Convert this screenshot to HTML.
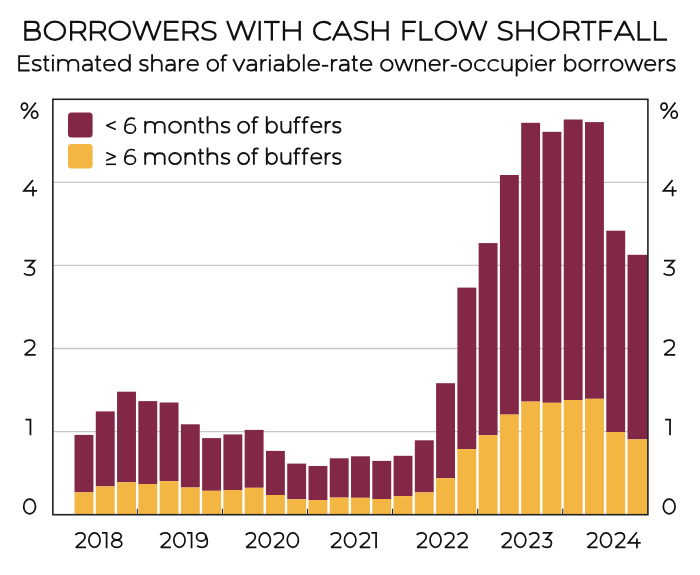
<!DOCTYPE html>
<html><head><meta charset="utf-8"><style>
html,body{margin:0;padding:0;background:#fff;width:700px;height:575px;overflow:hidden}
svg{display:block}
.dg ellipse,.dg path,.gl ellipse,.gl path{vector-effect:non-scaling-stroke}
</style></head><body>
<svg width="700" height="575" viewBox="0 0 700 575">
<rect width="700" height="575" fill="#fff"/>
<line x1="52.85" y1="431.60" x2="647.9" y2="431.60" stroke="#c8c8c8" stroke-width="1.3"/>
<line x1="52.85" y1="348.50" x2="647.9" y2="348.50" stroke="#c8c8c8" stroke-width="1.3"/>
<line x1="52.85" y1="265.40" x2="647.9" y2="265.40" stroke="#c8c8c8" stroke-width="1.3"/>
<line x1="52.85" y1="182.30" x2="647.9" y2="182.30" stroke="#c8c8c8" stroke-width="1.3"/>
<rect x="74.52" y="434.90" width="18.90" height="57.40" fill="#822846"/>
<rect x="74.52" y="492.30" width="18.90" height="22.40" fill="#F3B642"/>
<rect x="95.79" y="411.40" width="18.90" height="75.00" fill="#822846"/>
<rect x="95.79" y="486.40" width="18.90" height="28.30" fill="#F3B642"/>
<rect x="117.06" y="391.70" width="18.90" height="90.60" fill="#822846"/>
<rect x="117.06" y="482.30" width="18.90" height="32.40" fill="#F3B642"/>
<rect x="138.33" y="401.10" width="18.90" height="82.90" fill="#822846"/>
<rect x="138.33" y="484.00" width="18.90" height="30.70" fill="#F3B642"/>
<rect x="159.60" y="402.50" width="18.90" height="78.60" fill="#822846"/>
<rect x="159.60" y="481.10" width="18.90" height="33.60" fill="#F3B642"/>
<rect x="180.87" y="424.30" width="18.90" height="63.20" fill="#822846"/>
<rect x="180.87" y="487.50" width="18.90" height="27.20" fill="#F3B642"/>
<rect x="202.14" y="438.10" width="18.90" height="52.70" fill="#822846"/>
<rect x="202.14" y="490.80" width="18.90" height="23.90" fill="#F3B642"/>
<rect x="223.41" y="434.40" width="18.90" height="55.60" fill="#822846"/>
<rect x="223.41" y="490.00" width="18.90" height="24.70" fill="#F3B642"/>
<rect x="244.68" y="429.90" width="18.90" height="57.90" fill="#822846"/>
<rect x="244.68" y="487.80" width="18.90" height="26.90" fill="#F3B642"/>
<rect x="265.95" y="450.90" width="18.90" height="44.10" fill="#822846"/>
<rect x="265.95" y="495.00" width="18.90" height="19.70" fill="#F3B642"/>
<rect x="287.22" y="463.60" width="18.90" height="35.70" fill="#822846"/>
<rect x="287.22" y="499.30" width="18.90" height="15.40" fill="#F3B642"/>
<rect x="308.49" y="466.00" width="18.90" height="34.10" fill="#822846"/>
<rect x="308.49" y="500.10" width="18.90" height="14.60" fill="#F3B642"/>
<rect x="329.76" y="458.30" width="18.90" height="39.30" fill="#822846"/>
<rect x="329.76" y="497.60" width="18.90" height="17.10" fill="#F3B642"/>
<rect x="351.03" y="456.30" width="18.90" height="41.50" fill="#822846"/>
<rect x="351.03" y="497.80" width="18.90" height="16.90" fill="#F3B642"/>
<rect x="372.30" y="460.90" width="18.90" height="38.10" fill="#822846"/>
<rect x="372.30" y="499.00" width="18.90" height="15.70" fill="#F3B642"/>
<rect x="393.57" y="455.80" width="18.90" height="40.30" fill="#822846"/>
<rect x="393.57" y="496.10" width="18.90" height="18.60" fill="#F3B642"/>
<rect x="414.84" y="440.30" width="18.90" height="52.10" fill="#822846"/>
<rect x="414.84" y="492.40" width="18.90" height="22.30" fill="#F3B642"/>
<rect x="436.11" y="383.20" width="18.90" height="95.00" fill="#822846"/>
<rect x="436.11" y="478.20" width="18.90" height="36.50" fill="#F3B642"/>
<rect x="457.38" y="287.60" width="18.90" height="161.50" fill="#822846"/>
<rect x="457.38" y="449.10" width="18.90" height="65.60" fill="#F3B642"/>
<rect x="478.65" y="243.10" width="18.90" height="192.10" fill="#822846"/>
<rect x="478.65" y="435.20" width="18.90" height="79.50" fill="#F3B642"/>
<rect x="499.92" y="175.00" width="18.90" height="239.60" fill="#822846"/>
<rect x="499.92" y="414.60" width="18.90" height="100.10" fill="#F3B642"/>
<rect x="521.19" y="122.80" width="18.90" height="278.80" fill="#822846"/>
<rect x="521.19" y="401.60" width="18.90" height="113.10" fill="#F3B642"/>
<rect x="542.46" y="131.80" width="18.90" height="271.00" fill="#822846"/>
<rect x="542.46" y="402.80" width="18.90" height="111.90" fill="#F3B642"/>
<rect x="563.73" y="119.50" width="18.90" height="280.50" fill="#822846"/>
<rect x="563.73" y="400.00" width="18.90" height="114.70" fill="#F3B642"/>
<rect x="585.00" y="122.10" width="18.90" height="276.70" fill="#822846"/>
<rect x="585.00" y="398.80" width="18.90" height="115.90" fill="#F3B642"/>
<rect x="606.27" y="230.70" width="18.90" height="201.30" fill="#822846"/>
<rect x="606.27" y="432.00" width="18.90" height="82.70" fill="#F3B642"/>
<rect x="627.54" y="254.80" width="20.36" height="184.60" fill="#822846"/>
<rect x="627.54" y="439.40" width="20.36" height="75.30" fill="#F3B642"/>
<line x1="137.33" y1="508.70000000000005" x2="137.33" y2="514.7" stroke="#222" stroke-width="1.1"/>
<line x1="222.41" y1="508.70000000000005" x2="222.41" y2="514.7" stroke="#222" stroke-width="1.1"/>
<line x1="307.49" y1="508.70000000000005" x2="307.49" y2="514.7" stroke="#222" stroke-width="1.1"/>
<line x1="392.57" y1="508.70000000000005" x2="392.57" y2="514.7" stroke="#222" stroke-width="1.1"/>
<line x1="477.65" y1="508.70000000000005" x2="477.65" y2="514.7" stroke="#222" stroke-width="1.1"/>
<line x1="562.73" y1="508.70000000000005" x2="562.73" y2="514.7" stroke="#222" stroke-width="1.1"/>
<rect x="52.85" y="99.3" width="595.05" height="415.40000000000003" fill="none" stroke="#222" stroke-width="1.6"/>
<rect x="68" y="112.6" width="24.6" height="24.8" rx="3.5" fill="#822846"/>
<rect x="68" y="144" width="24.6" height="24.6" rx="3.5" fill="#F3B642"/>

<g transform="translate(24.20,40.60) scale(1.3343,1.2160)" class="gl" fill="none" stroke="#111" color="#111" stroke-width="2.3"><g transform="translate(0.000,0)"><path d="M0.875,-16.2V0"/><path d="M0.875,-15.325H6.9C9.4,-15.325 10.7,-13.9 10.7,-12.0C10.7,-9.9 9.3,-8.5 6.9,-8.5H0.875"/><path d="M0.875,-8.5H7.5C10.3,-8.5 11.725,-7.1 11.725,-4.7C11.725,-2.2 10.2,-0.875 7.3,-0.875H0.875"/></g><g transform="translate(14.600,0)"><ellipse cx="8.400" cy="-8.100" rx="7.525" ry="7.425"/></g><g transform="translate(34.300,0)"><path d="M0.875,-16.2V0"/><path d="M0.875,-15.325H6.7C9.8,-15.325 11.4,-13.6 11.4,-11.0C11.4,-8.4 9.8,-6.7 6.7,-6.7H0.875"/><path d="M7.6,-6.7L11.9,0" stroke-linecap="butt"/></g><g transform="translate(49.200,0)"><path d="M0.875,-16.2V0"/><path d="M0.875,-15.325H6.7C9.8,-15.325 11.4,-13.6 11.4,-11.0C11.4,-8.4 9.8,-6.7 6.7,-6.7H0.875"/><path d="M7.6,-6.7L11.9,0" stroke-linecap="butt"/></g><g transform="translate(63.200,0)"><ellipse cx="8.400" cy="-8.100" rx="7.525" ry="7.425"/></g><g transform="translate(81.300,0)"><path d="M0.4,-16.2L5.6,-0.4L10.7,-15.899999999999999L15.8,-0.4L21.0,-16.2" stroke-linejoin="bevel"/></g><g transform="translate(104.900,0)"><path d="M10.8,-15.325H0.875V-0.875H10.8"/><path d="M0.875,-8.2H10.0"/></g><g transform="translate(118.600,0)"><path d="M0.875,-16.2V0"/><path d="M0.875,-15.325H6.7C9.8,-15.325 11.4,-13.6 11.4,-11.0C11.4,-8.4 9.8,-6.7 6.7,-6.7H0.875"/><path d="M7.6,-6.7L11.9,0" stroke-linecap="butt"/></g><g transform="translate(132.400,0)"><path d="M11.2,-14.1C10.1,-14.9 8.5,-15.375 6.4,-15.375C3.1,-15.375 1.4,-13.9 1.4,-11.8C1.4,-6.7 11.0,-9.5 11.0,-4.4C11.0,-2.2 9.1,-0.825 5.9,-0.825C3.6,-0.825 1.6,-1.6 0.5,-2.7"/></g></g>
<g transform="translate(226.60,40.60) scale(1.3521,1.2160)" class="gl" fill="none" stroke="#111" color="#111" stroke-width="2.3"><g transform="translate(0.000,0)"><path d="M0.4,-16.2L5.6,-0.4L10.7,-15.899999999999999L15.8,-0.4L21.0,-16.2" stroke-linejoin="bevel"/></g><g transform="translate(23.600,0)"><path d="M0.875,-16.2V0"/></g><g transform="translate(27.650,0)"><path d="M0,-15.325H11.6"/><path d="M5.8,-15.325V0"/></g><g transform="translate(41.550,0)"><path d="M0.875,-16.2V0"/><path d="M12.525,-16.2V0"/><path d="M0.875,-8.3H12.525"/></g></g>
<g transform="translate(313.10,40.60) scale(1.2621,1.2160)" class="gl" fill="none" stroke="#111" color="#111" stroke-width="2.3"><g transform="translate(0.000,0)"><path d="M13.9,-13.0C12.5,-14.6 10.6,-15.375 8.4,-15.375C4.1,-15.375 0.875,-12.2 0.875,-8.1C0.875,-4.0 4.1,-0.825 8.4,-0.825C10.6,-0.825 12.5,-1.6 13.9,-3.2"/></g><g transform="translate(15.300,0)"><path d="M0.4,0L7.8,-15.799999999999999L15.2,0" stroke-linejoin="bevel"/><path d="M3.2,-4.9H12.4"/></g><g transform="translate(32.000,0)"><path d="M11.2,-14.1C10.1,-14.9 8.5,-15.375 6.4,-15.375C3.1,-15.375 1.4,-13.9 1.4,-11.8C1.4,-6.7 11.0,-9.5 11.0,-4.4C11.0,-2.2 9.1,-0.825 5.9,-0.825C3.6,-0.825 1.6,-1.6 0.5,-2.7"/></g><g transform="translate(46.500,0)"><path d="M0.875,-16.2V0"/><path d="M12.525,-16.2V0"/><path d="M0.875,-8.3H12.525"/></g></g>
<g transform="translate(402.40,40.60) scale(1.3219,1.2160)" class="gl" fill="none" stroke="#111" color="#111" stroke-width="2.3"><g transform="translate(0.000,0)"><path d="M10.2,-15.325H0.875V0"/><path d="M0.875,-7.9H9.4"/></g><g transform="translate(12.900,0)"><path d="M0.875,-16.2V-0.875H10.0"/></g><g transform="translate(24.500,0)"><ellipse cx="8.400" cy="-8.100" rx="7.525" ry="7.425"/></g><g transform="translate(42.600,0)"><path d="M0.4,-16.2L5.6,-0.4L10.7,-15.899999999999999L15.8,-0.4L21.0,-16.2" stroke-linejoin="bevel"/></g></g>
<g transform="translate(497.30,40.60) scale(1.3114,1.2160)" class="gl" fill="none" stroke="#111" color="#111" stroke-width="2.3"><g transform="translate(0.000,0)"><path d="M11.2,-14.1C10.1,-14.9 8.5,-15.375 6.4,-15.375C3.1,-15.375 1.4,-13.9 1.4,-11.8C1.4,-6.7 11.0,-9.5 11.0,-4.4C11.0,-2.2 9.1,-0.825 5.9,-0.825C3.6,-0.825 1.6,-1.6 0.5,-2.7"/></g><g transform="translate(14.500,0)"><path d="M0.875,-16.2V0"/><path d="M12.525,-16.2V0"/><path d="M0.875,-8.3H12.525"/></g><g transform="translate(30.800,0)"><ellipse cx="8.400" cy="-8.100" rx="7.525" ry="7.425"/></g><g transform="translate(50.500,0)"><path d="M0.875,-16.2V0"/><path d="M0.875,-15.325H6.7C9.8,-15.325 11.4,-13.6 11.4,-11.0C11.4,-8.4 9.8,-6.7 6.7,-6.7H0.875"/><path d="M7.6,-6.7L11.9,0" stroke-linecap="butt"/></g><g transform="translate(63.900,0)"><path d="M0,-15.325H11.6"/><path d="M5.8,-15.325V0"/></g><g transform="translate(77.800,0)"><path d="M10.2,-15.325H0.875V0"/><path d="M0.875,-7.9H9.4"/></g><g transform="translate(89.100,0)"><path d="M0.4,0L7.8,-15.799999999999999L15.2,0" stroke-linejoin="bevel"/><path d="M3.2,-4.9H12.4"/></g><g transform="translate(106.900,0)"><path d="M0.875,-16.2V-0.875H10.0"/></g><g transform="translate(119.400,0)"><path d="M0.875,-16.2V-0.875H10.0"/></g></g>
<g transform="translate(18.20,71.40) scale(1.0658,1.0000)" class="gl" fill="none" stroke="#111" color="#111" stroke-width="1.85"><g transform="translate(0.000,0)"><path d="M10.8,-15.325H0.875V-0.875H10.8"/><path d="M0.875,-8.2H10.0"/></g><g transform="translate(12.600,0)"><path d="M8.8,-10.6C7.9,-11.2 6.5,-11.575 4.9,-11.575C2.5,-11.575 1.2,-10.6 1.2,-9.0C1.2,-5.2 8.5,-7.4 8.5,-3.4C8.5,-1.8 7.0,-0.825 4.6,-0.825C2.8,-0.825 1.3,-1.4 0.4,-2.2"/></g><g transform="translate(23.300,0)"><path d="M2.3,-16.0V-3.4C2.3,-1.7 3.1,-0.825 4.6,-0.825C5.1,-0.825 5.6,-0.95 6.0,-1.2"/><path d="M0,-11.525H5.7"/></g><g transform="translate(31.700,0)"><path d="M0.875,-12.4V0"/><circle cx="0.875" cy="-15.9" r="1.05" fill="currentColor" stroke="none"/></g><g transform="translate(36.650,0)"><path d="M0.875,-12.4V0"/><path d="M0.875,-7.2C0.875,-10.0 2.6,-11.525 5.5,-11.525C8.5,-11.525 10.3,-10.0 10.3,-7.2V0"/><path d="M10.3,-7.2C10.3,-10.0 12.1,-11.525 15.0,-11.525C18.0,-11.525 19.725,-10.0 19.725,-7.2V0"/></g><g transform="translate(59.850,0)"><path d="M1.2,-10.5C2.3,-11.2 3.6,-11.575 5.1,-11.575C7.7,-11.575 9.125,-10.2 9.125,-7.4V0"/><path d="M9.125,-6.7H4.6C2.0,-6.7 0.875,-5.5 0.875,-3.7C0.875,-1.9 2.3,-0.825 4.5,-0.825C7.3,-0.825 9.125,-2.4 9.125,-4.8"/></g><g transform="translate(71.950,0)"><path d="M2.3,-16.0V-3.4C2.3,-1.7 3.1,-0.825 4.6,-0.825C5.1,-0.825 5.6,-0.95 6.0,-1.2"/><path d="M0,-11.525H5.7"/></g><g transform="translate(79.750,0)"><path d="M0.875,-6.5H11.0C11.0,-9.5 8.9,-11.575 6.0,-11.575C2.9,-11.575 0.875,-9.3 0.875,-6.2C0.875,-3.0 3.1,-0.825 6.2,-0.825C8.0,-0.825 9.5,-1.5 10.5,-2.6"/></g><g transform="translate(93.550,0)"><path d="M11.125,-17.2V0"/><ellipse cx="6.000" cy="-6.200" rx="5.125" ry="5.575"/></g></g>
<g transform="translate(139.00,71.40) scale(1.0310,1.0000)" class="gl" fill="none" stroke="#111" color="#111" stroke-width="1.85"><g transform="translate(0.000,0)"><path d="M8.8,-10.6C7.9,-11.2 6.5,-11.575 4.9,-11.575C2.5,-11.575 1.2,-10.6 1.2,-9.0C1.2,-5.2 8.5,-7.4 8.5,-3.4C8.5,-1.8 7.0,-0.825 4.6,-0.825C2.8,-0.825 1.3,-1.4 0.4,-2.2"/></g><g transform="translate(11.800,0)"><path d="M0.875,-17.2V0"/><path d="M0.875,-7.0C0.875,-9.9 2.8,-11.525 5.6,-11.525C8.4,-11.525 10.225,-9.9 10.225,-7.0V0"/></g><g transform="translate(25.500,0)"><path d="M1.2,-10.5C2.3,-11.2 3.6,-11.575 5.1,-11.575C7.7,-11.575 9.125,-10.2 9.125,-7.4V0"/><path d="M9.125,-6.7H4.6C2.0,-6.7 0.875,-5.5 0.875,-3.7C0.875,-1.9 2.3,-0.825 4.5,-0.825C7.3,-0.825 9.125,-2.4 9.125,-4.8"/></g><g transform="translate(38.700,0)"><path d="M0.875,-12.4V0"/><path d="M0.875,-6.6C0.875,-9.8 2.9,-11.6 6.1,-11.6"/></g><g transform="translate(46.200,0)"><path d="M0.875,-6.5H11.0C11.0,-9.5 8.9,-11.575 6.0,-11.575C2.9,-11.575 0.875,-9.3 0.875,-6.2C0.875,-3.0 3.1,-0.825 6.2,-0.825C8.0,-0.825 9.5,-1.5 10.5,-2.6"/></g></g>
<g transform="translate(206.70,71.40) scale(0.9369,1.0000)" class="gl" fill="none" stroke="#111" color="#111" stroke-width="1.85"><g transform="translate(0.000,0)"><ellipse cx="6.550" cy="-6.200" rx="5.675" ry="5.575"/></g><g transform="translate(14.600,0)"><path d="M2.6,0V-13.6C2.6,-15.5 3.7,-16.325 5.5,-16.325C6.2,-16.325 6.9,-16.2 7.5,-15.9"/><path d="M0,-11.525H6.4"/></g></g>
<g transform="translate(232.80,71.40) scale(1.0560,1.0000)" class="gl" fill="none" stroke="#111" color="#111" stroke-width="1.85"><g transform="translate(0.000,0)"><path d="M0.4,-12.4L5.8,-0.4L11.2,-12.4" stroke-linejoin="bevel"/></g><g transform="translate(12.900,0)"><path d="M1.2,-10.5C2.3,-11.2 3.6,-11.575 5.1,-11.575C7.7,-11.575 9.125,-10.2 9.125,-7.4V0"/><path d="M9.125,-6.7H4.6C2.0,-6.7 0.875,-5.5 0.875,-3.7C0.875,-1.9 2.3,-0.825 4.5,-0.825C7.3,-0.825 9.125,-2.4 9.125,-4.8"/></g><g transform="translate(26.100,0)"><path d="M0.875,-12.4V0"/><path d="M0.875,-6.6C0.875,-9.8 2.9,-11.6 6.1,-11.6"/></g><g transform="translate(34.200,0)"><path d="M0.875,-12.4V0"/><circle cx="0.875" cy="-15.9" r="1.05" fill="currentColor" stroke="none"/></g><g transform="translate(38.550,0)"><path d="M1.2,-10.5C2.3,-11.2 3.6,-11.575 5.1,-11.575C7.7,-11.575 9.125,-10.2 9.125,-7.4V0"/><path d="M9.125,-6.7H4.6C2.0,-6.7 0.875,-5.5 0.875,-3.7C0.875,-1.9 2.3,-0.825 4.5,-0.825C7.3,-0.825 9.125,-2.4 9.125,-4.8"/></g><g transform="translate(51.750,0)"><path d="M0.875,-17.2V0"/><ellipse cx="6.000" cy="-6.200" rx="5.125" ry="5.575"/></g><g transform="translate(66.350,0)"><path d="M0.875,-17.2V0"/></g><g transform="translate(70.700,0)"><path d="M0.875,-6.5H11.0C11.0,-9.5 8.9,-11.575 6.0,-11.575C2.9,-11.575 0.875,-9.3 0.875,-6.2C0.875,-3.0 3.1,-0.825 6.2,-0.825C8.0,-0.825 9.5,-1.5 10.5,-2.6"/></g><g transform="translate(84.400,0)"><path d="M0,-5.6H6.0"/></g><g transform="translate(92.900,0)"><path d="M0.875,-12.4V0"/><path d="M0.875,-6.6C0.875,-9.8 2.9,-11.6 6.1,-11.6"/></g><g transform="translate(100.400,0)"><path d="M1.2,-10.5C2.3,-11.2 3.6,-11.575 5.1,-11.575C7.7,-11.575 9.125,-10.2 9.125,-7.4V0"/><path d="M9.125,-6.7H4.6C2.0,-6.7 0.875,-5.5 0.875,-3.7C0.875,-1.9 2.3,-0.825 4.5,-0.825C7.3,-0.825 9.125,-2.4 9.125,-4.8"/></g><g transform="translate(112.500,0)"><path d="M2.3,-16.0V-3.4C2.3,-1.7 3.1,-0.825 4.6,-0.825C5.1,-0.825 5.6,-0.95 6.0,-1.2"/><path d="M0,-11.525H5.7"/></g><g transform="translate(120.300,0)"><path d="M0.875,-6.5H11.0C11.0,-9.5 8.9,-11.575 6.0,-11.575C2.9,-11.575 0.875,-9.3 0.875,-6.2C0.875,-3.0 3.1,-0.825 6.2,-0.825C8.0,-0.825 9.5,-1.5 10.5,-2.6"/></g></g>
<g transform="translate(380.20,71.40) scale(1.0141,1.0000)" class="gl" fill="none" stroke="#111" color="#111" stroke-width="1.85"><g transform="translate(0.000,0)"><ellipse cx="6.550" cy="-6.200" rx="5.675" ry="5.575"/></g><g transform="translate(14.400,0)"><path d="M0.4,-12.4L4.6,-0.4L9.0,-12.1L13.4,-0.4L17.6,-12.4" stroke-linejoin="bevel"/></g><g transform="translate(34.300,0)"><path d="M0.875,-12.4V0"/><path d="M0.875,-7.0C0.875,-9.9 2.8,-11.525 5.5,-11.525C8.3,-11.525 10.025,-9.9 10.025,-7.0V0"/></g><g transform="translate(47.800,0)"><path d="M0.875,-6.5H11.0C11.0,-9.5 8.9,-11.575 6.0,-11.575C2.9,-11.575 0.875,-9.3 0.875,-6.2C0.875,-3.0 3.1,-0.825 6.2,-0.825C8.0,-0.825 9.5,-1.5 10.5,-2.6"/></g><g transform="translate(62.200,0)"><path d="M0.875,-12.4V0"/><path d="M0.875,-6.6C0.875,-9.8 2.9,-11.6 6.1,-11.6"/></g><g transform="translate(69.600,0)"><path d="M0,-5.6H6.0"/></g><g transform="translate(77.500,0)"><ellipse cx="6.550" cy="-6.200" rx="5.675" ry="5.575"/></g><g transform="translate(92.600,0)"><path d="M10.9,-9.7C9.9,-11.0 8.4,-11.575 6.55,-11.575C3.3,-11.575 0.875,-9.3 0.875,-6.2C0.875,-3.1 3.3,-0.825 6.55,-0.825C8.4,-0.825 9.9,-1.4 10.9,-2.7"/></g><g transform="translate(105.800,0)"><path d="M10.9,-9.7C9.9,-11.0 8.4,-11.575 6.55,-11.575C3.3,-11.575 0.875,-9.3 0.875,-6.2C0.875,-3.1 3.3,-0.825 6.55,-0.825C8.4,-0.825 9.9,-1.4 10.9,-2.7"/></g><g transform="translate(119.600,0)"><path d="M10.025,-12.4V0"/><path d="M0.875,-12.4V-5.4C0.875,-2.5 2.8,-0.825 5.5,-0.825C8.3,-0.825 10.025,-2.5 10.025,-5.4"/></g><g transform="translate(133.700,0)"><path d="M0.875,-12.4V5.0"/><ellipse cx="6.000" cy="-6.200" rx="5.125" ry="5.575"/></g><g transform="translate(148.300,0)"><path d="M0.875,-12.4V0"/><circle cx="0.875" cy="-15.9" r="1.05" fill="currentColor" stroke="none"/></g><g transform="translate(152.650,0)"><path d="M0.875,-6.5H11.0C11.0,-9.5 8.9,-11.575 6.0,-11.575C2.9,-11.575 0.875,-9.3 0.875,-6.2C0.875,-3.0 3.1,-0.825 6.2,-0.825C8.0,-0.825 9.5,-1.5 10.5,-2.6"/></g><g transform="translate(167.050,0)"><path d="M0.875,-12.4V0"/><path d="M0.875,-6.6C0.875,-9.8 2.9,-11.6 6.1,-11.6"/></g></g>
<g transform="translate(564.30,71.40) scale(1.0118,1.0000)" class="gl" fill="none" stroke="#111" color="#111" stroke-width="1.85"><g transform="translate(0.000,0)"><path d="M0.875,-17.2V0"/><ellipse cx="6.000" cy="-6.200" rx="5.125" ry="5.575"/></g><g transform="translate(14.000,0)"><ellipse cx="6.550" cy="-6.200" rx="5.675" ry="5.575"/></g><g transform="translate(29.700,0)"><path d="M0.875,-12.4V0"/><path d="M0.875,-6.6C0.875,-9.8 2.9,-11.6 6.1,-11.6"/></g><g transform="translate(37.800,0)"><path d="M0.875,-12.4V0"/><path d="M0.875,-6.6C0.875,-9.8 2.9,-11.6 6.1,-11.6"/></g><g transform="translate(45.300,0)"><ellipse cx="6.550" cy="-6.200" rx="5.675" ry="5.575"/></g><g transform="translate(59.700,0)"><path d="M0.4,-12.4L4.6,-0.4L9.0,-12.1L13.4,-0.4L17.6,-12.4" stroke-linejoin="bevel"/></g><g transform="translate(79.000,0)"><path d="M0.875,-6.5H11.0C11.0,-9.5 8.9,-11.575 6.0,-11.575C2.9,-11.575 0.875,-9.3 0.875,-6.2C0.875,-3.0 3.1,-0.825 6.2,-0.825C8.0,-0.825 9.5,-1.5 10.5,-2.6"/></g><g transform="translate(93.400,0)"><path d="M0.875,-12.4V0"/><path d="M0.875,-6.6C0.875,-9.8 2.9,-11.6 6.1,-11.6"/></g><g transform="translate(100.700,0)"><path d="M8.8,-10.6C7.9,-11.2 6.5,-11.575 4.9,-11.575C2.5,-11.575 1.2,-10.6 1.2,-9.0C1.2,-5.2 8.5,-7.4 8.5,-3.4C8.5,-1.8 7.0,-0.825 4.6,-0.825C2.8,-0.825 1.3,-1.4 0.4,-2.2"/></g></g>
<g transform="translate(144.30,133.40) scale(1.0337,1.0000)" class="gl" fill="none" stroke="#111" color="#111" stroke-width="1.85"><g transform="translate(0.000,0)"><path d="M0.875,-12.4V0"/><path d="M0.875,-7.2C0.875,-10.0 2.6,-11.525 5.5,-11.525C8.5,-11.525 10.3,-10.0 10.3,-7.2V0"/><path d="M10.3,-7.2C10.3,-10.0 12.1,-11.525 15.0,-11.525C18.0,-11.525 19.725,-10.0 19.725,-7.2V0"/></g><g transform="translate(23.200,0)"><ellipse cx="6.550" cy="-6.200" rx="5.675" ry="5.575"/></g><g transform="translate(38.900,0)"><path d="M0.875,-12.4V0"/><path d="M0.875,-7.0C0.875,-9.9 2.8,-11.525 5.5,-11.525C8.3,-11.525 10.025,-9.9 10.025,-7.0V0"/></g><g transform="translate(51.900,0)"><path d="M2.3,-16.0V-3.4C2.3,-1.7 3.1,-0.825 4.6,-0.825C5.1,-0.825 5.6,-0.95 6.0,-1.2"/><path d="M0,-11.525H5.7"/></g><g transform="translate(60.300,0)"><path d="M0.875,-17.2V0"/><path d="M0.875,-7.0C0.875,-9.9 2.8,-11.525 5.6,-11.525C8.4,-11.525 10.225,-9.9 10.225,-7.0V0"/></g><g transform="translate(73.800,0)"><path d="M8.8,-10.6C7.9,-11.2 6.5,-11.575 4.9,-11.575C2.5,-11.575 1.2,-10.6 1.2,-9.0C1.2,-5.2 8.5,-7.4 8.5,-3.4C8.5,-1.8 7.0,-0.825 4.6,-0.825C2.8,-0.825 1.3,-1.4 0.4,-2.2"/></g></g>
<g transform="translate(237.30,133.40) scale(0.9640,1.0000)" class="gl" fill="none" stroke="#111" color="#111" stroke-width="1.85"><g transform="translate(0.000,0)"><ellipse cx="6.550" cy="-6.200" rx="5.675" ry="5.575"/></g><g transform="translate(14.600,0)"><path d="M2.6,0V-13.6C2.6,-15.5 3.7,-16.325 5.5,-16.325C6.2,-16.325 6.9,-16.2 7.5,-15.9"/><path d="M0,-11.525H6.4"/></g></g>
<g transform="translate(265.90,133.40) scale(0.9960,1.0000)" class="gl" fill="none" stroke="#111" color="#111" stroke-width="1.85"><g transform="translate(0.000,0)"><path d="M0.875,-17.2V0"/><ellipse cx="6.000" cy="-6.200" rx="5.125" ry="5.575"/></g><g transform="translate(14.600,0)"><path d="M10.025,-12.4V0"/><path d="M0.875,-12.4V-5.4C0.875,-2.5 2.8,-0.825 5.5,-0.825C8.3,-0.825 10.025,-2.5 10.025,-5.4"/></g><g transform="translate(27.600,0)"><path d="M2.6,0V-13.6C2.6,-15.5 3.7,-16.325 5.5,-16.325C6.2,-16.325 6.9,-16.2 7.5,-15.9"/><path d="M0,-11.525H6.4"/></g><g transform="translate(35.900,0)"><path d="M2.6,0V-13.6C2.6,-15.5 3.7,-16.325 5.5,-16.325C6.2,-16.325 6.9,-16.2 7.5,-15.9"/><path d="M0,-11.525H6.4"/></g><g transform="translate(44.700,0)"><path d="M0.875,-6.5H11.0C11.0,-9.5 8.9,-11.575 6.0,-11.575C2.9,-11.575 0.875,-9.3 0.875,-6.2C0.875,-3.0 3.1,-0.825 6.2,-0.825C8.0,-0.825 9.5,-1.5 10.5,-2.6"/></g><g transform="translate(59.100,0)"><path d="M0.875,-12.4V0"/><path d="M0.875,-6.6C0.875,-9.8 2.9,-11.6 6.1,-11.6"/></g><g transform="translate(66.400,0)"><path d="M8.8,-10.6C7.9,-11.2 6.5,-11.575 4.9,-11.575C2.5,-11.575 1.2,-10.6 1.2,-9.0C1.2,-5.2 8.5,-7.4 8.5,-3.4C8.5,-1.8 7.0,-0.825 4.6,-0.825C2.8,-0.825 1.3,-1.4 0.4,-2.2"/></g></g>
<g transform="translate(144.30,164.75) scale(1.0337,1.0000)" class="gl" fill="none" stroke="#111" color="#111" stroke-width="1.85"><g transform="translate(0.000,0)"><path d="M0.875,-12.4V0"/><path d="M0.875,-7.2C0.875,-10.0 2.6,-11.525 5.5,-11.525C8.5,-11.525 10.3,-10.0 10.3,-7.2V0"/><path d="M10.3,-7.2C10.3,-10.0 12.1,-11.525 15.0,-11.525C18.0,-11.525 19.725,-10.0 19.725,-7.2V0"/></g><g transform="translate(23.200,0)"><ellipse cx="6.550" cy="-6.200" rx="5.675" ry="5.575"/></g><g transform="translate(38.900,0)"><path d="M0.875,-12.4V0"/><path d="M0.875,-7.0C0.875,-9.9 2.8,-11.525 5.5,-11.525C8.3,-11.525 10.025,-9.9 10.025,-7.0V0"/></g><g transform="translate(51.900,0)"><path d="M2.3,-16.0V-3.4C2.3,-1.7 3.1,-0.825 4.6,-0.825C5.1,-0.825 5.6,-0.95 6.0,-1.2"/><path d="M0,-11.525H5.7"/></g><g transform="translate(60.300,0)"><path d="M0.875,-17.2V0"/><path d="M0.875,-7.0C0.875,-9.9 2.8,-11.525 5.6,-11.525C8.4,-11.525 10.225,-9.9 10.225,-7.0V0"/></g><g transform="translate(73.800,0)"><path d="M8.8,-10.6C7.9,-11.2 6.5,-11.575 4.9,-11.575C2.5,-11.575 1.2,-10.6 1.2,-9.0C1.2,-5.2 8.5,-7.4 8.5,-3.4C8.5,-1.8 7.0,-0.825 4.6,-0.825C2.8,-0.825 1.3,-1.4 0.4,-2.2"/></g></g>
<g transform="translate(237.30,164.75) scale(0.9640,1.0000)" class="gl" fill="none" stroke="#111" color="#111" stroke-width="1.85"><g transform="translate(0.000,0)"><ellipse cx="6.550" cy="-6.200" rx="5.675" ry="5.575"/></g><g transform="translate(14.600,0)"><path d="M2.6,0V-13.6C2.6,-15.5 3.7,-16.325 5.5,-16.325C6.2,-16.325 6.9,-16.2 7.5,-15.9"/><path d="M0,-11.525H6.4"/></g></g>
<g transform="translate(265.90,164.75) scale(0.9960,1.0000)" class="gl" fill="none" stroke="#111" color="#111" stroke-width="1.85"><g transform="translate(0.000,0)"><path d="M0.875,-17.2V0"/><ellipse cx="6.000" cy="-6.200" rx="5.125" ry="5.575"/></g><g transform="translate(14.600,0)"><path d="M10.025,-12.4V0"/><path d="M0.875,-12.4V-5.4C0.875,-2.5 2.8,-0.825 5.5,-0.825C8.3,-0.825 10.025,-2.5 10.025,-5.4"/></g><g transform="translate(27.600,0)"><path d="M2.6,0V-13.6C2.6,-15.5 3.7,-16.325 5.5,-16.325C6.2,-16.325 6.9,-16.2 7.5,-15.9"/><path d="M0,-11.525H6.4"/></g><g transform="translate(35.900,0)"><path d="M2.6,0V-13.6C2.6,-15.5 3.7,-16.325 5.5,-16.325C6.2,-16.325 6.9,-16.2 7.5,-15.9"/><path d="M0,-11.525H6.4"/></g><g transform="translate(44.700,0)"><path d="M0.875,-6.5H11.0C11.0,-9.5 8.9,-11.575 6.0,-11.575C2.9,-11.575 0.875,-9.3 0.875,-6.2C0.875,-3.0 3.1,-0.825 6.2,-0.825C8.0,-0.825 9.5,-1.5 10.5,-2.6"/></g><g transform="translate(59.100,0)"><path d="M0.875,-12.4V0"/><path d="M0.875,-6.6C0.875,-9.8 2.9,-11.6 6.1,-11.6"/></g><g transform="translate(66.400,0)"><path d="M8.8,-10.6C7.9,-11.2 6.5,-11.575 4.9,-11.575C2.5,-11.575 1.2,-10.6 1.2,-9.0C1.2,-5.2 8.5,-7.4 8.5,-3.4C8.5,-1.8 7.0,-0.825 4.6,-0.825C2.8,-0.825 1.3,-1.4 0.4,-2.2"/></g></g>
<g transform="translate(106.00,120.90) scale(1.0000,1.0000)" fill="none" stroke="#111" stroke-width="1.6" class="dg"><g transform="translate(0.000,0)"><path d="M9.8,0.5L0.6,4.55L9.8,8.6" stroke-linejoin="round"/></g></g>
<g transform="translate(124.00,117.30) scale(1.0000,1.0123)" fill="none" stroke="#111" stroke-width="1.7" class="dg"><g transform="translate(0.000,0)"><ellipse cx="6.15" cy="11.25" rx="5.35" ry="4.4"/><path d="M0.8,11.25C0.8,5.0 3.3,0.8 7.3,0.8C8.7,0.8 9.9,1.1 10.9,1.7"/></g></g>
<g transform="translate(106.00,151.90) scale(1.0000,1.0000)" fill="none" stroke="#111" stroke-width="1.6" class="dg"><g transform="translate(0.000,0)"><path d="M0.2,0.5L9.4,4.55L0.2,8.6" stroke-linejoin="round"/></g></g>
<g transform="translate(106.00,163.50) scale(1.0000,1.0000)" fill="none" stroke="#111" stroke-width="1.6" class="dg"><g transform="translate(0.000,0)"><path d="M0,0.8H10"/></g></g>
<g transform="translate(124.00,148.70) scale(1.0000,1.0062)" fill="none" stroke="#111" stroke-width="1.7" class="dg"><g transform="translate(0.000,0)"><ellipse cx="6.15" cy="11.25" rx="5.35" ry="4.4"/><path d="M0.8,11.25C0.8,5.0 3.3,0.8 7.3,0.8C8.7,0.8 9.9,1.1 10.9,1.7"/></g></g>
<g transform="translate(22.90,179.85) scale(1.0444,1.0062)" fill="none" stroke="#111" stroke-width="1.75" class="dg"><g transform="translate(0.000,0)"><path d="M9.6,0.3L1.0,10.9H13.5M9.7,6.6V16.2"/></g></g>
<g transform="translate(662.50,179.85) scale(1.0444,1.0062)" fill="none" stroke="#111" stroke-width="1.75" class="dg"><g transform="translate(0.000,0)"><path d="M9.6,0.3L1.0,10.9H13.5M9.7,6.6V16.2"/></g></g>
<g transform="translate(23.20,259.75) scale(1.1402,1.0062)" fill="none" stroke="#111" stroke-width="1.75" class="dg"><g transform="translate(0.000,0)"><path d="M1.0,0.8H9.9L4.6,7.0C8.1,7.0 9.9,8.8 9.9,11.2C9.9,13.7 8.0,15.4 5.3,15.4C3.4,15.4 1.8,14.7 0.7,13.5"/></g></g>
<g transform="translate(662.80,259.75) scale(1.1402,1.0062)" fill="none" stroke="#111" stroke-width="1.75" class="dg"><g transform="translate(0.000,0)"><path d="M1.0,0.8H9.9L4.6,7.0C8.1,7.0 9.9,8.8 9.9,11.2C9.9,13.7 8.0,15.4 5.3,15.4C3.4,15.4 1.8,14.7 0.7,13.5"/></g></g>
<g transform="translate(23.50,339.35) scale(1.0796,1.0062)" fill="none" stroke="#111" stroke-width="1.75" class="dg"><g transform="translate(0.000,0)"><path d="M0.75,3.1C1.7,1.5 3.4,0.8 5.4,0.8C8.3,0.8 10.3,2.5 10.3,4.9C10.3,6.3 9.7,7.5 8.3,8.9L1.2,15.4H11.3" stroke-linejoin="miter" stroke-miterlimit="2"/></g></g>
<g transform="translate(663.10,339.35) scale(1.0796,1.0062)" fill="none" stroke="#111" stroke-width="1.75" class="dg"><g transform="translate(0.000,0)"><path d="M0.75,3.1C1.7,1.5 3.4,0.8 5.4,0.8C8.3,0.8 10.3,2.5 10.3,4.9C10.3,6.3 9.7,7.5 8.3,8.9L1.2,15.4H11.3" stroke-linejoin="miter" stroke-miterlimit="2"/></g></g>
<g transform="translate(25.50,418.85) scale(1.0741,1.0062)" fill="none" stroke="#111" stroke-width="1.75" class="dg"><g transform="translate(0.000,0)"><path d="M0,0.8H4.6M4.6,0V16.2"/></g></g>
<g transform="translate(665.10,418.85) scale(1.0741,1.0062)" fill="none" stroke="#111" stroke-width="1.75" class="dg"><g transform="translate(0.000,0)"><path d="M0,0.8H4.6M4.6,0V16.2"/></g></g>
<g transform="translate(22.90,498.35) scale(1.0469,1.0062)" fill="none" stroke="#111" stroke-width="1.75" class="dg"><g transform="translate(0.000,0)"><ellipse cx="6.4" cy="8.1" rx="5.6" ry="7.3"/></g></g>
<g transform="translate(662.50,498.35) scale(1.0469,1.0062)" fill="none" stroke="#111" stroke-width="1.75" class="dg"><g transform="translate(0.000,0)"><ellipse cx="6.4" cy="8.1" rx="5.6" ry="7.3"/></g></g>
<g transform="translate(20.60,102.20) scale(1.0000,1.0000)" fill="none" stroke="#111" stroke-width="1.75" class="dg"><g transform="translate(0.000,0)"><ellipse cx="3.85" cy="4.35" rx="3.05" ry="3.55"/><ellipse cx="14.05" cy="12.45" rx="3.05" ry="3.55"/><path d="M15.2,0.3L3.0,16.5"/></g></g>
<g transform="translate(660.20,102.20) scale(1.0000,1.0000)" fill="none" stroke="#111" stroke-width="1.75" class="dg"><g transform="translate(0.000,0)"><ellipse cx="3.85" cy="4.35" rx="3.05" ry="3.55"/><ellipse cx="14.05" cy="12.45" rx="3.05" ry="3.55"/><path d="M15.2,0.3L3.0,16.5"/></g></g>
<g transform="translate(74.70,532.00) scale(1.0000,1.0000)" fill="none" stroke="#111" stroke-width="1.75" class="dg"><g transform="translate(0.000,0)"><path d="M0.75,3.1C1.7,1.5 3.4,0.8 5.4,0.8C8.3,0.8 10.3,2.5 10.3,4.9C10.3,6.3 9.7,7.5 8.3,8.9L1.2,15.4H11.3" stroke-linejoin="miter" stroke-miterlimit="2"/></g><g transform="translate(13.400,0)"><ellipse cx="6.4" cy="8.1" rx="5.6" ry="7.3"/></g><g transform="translate(27.300,0)"><path d="M0,0.8H4.6M4.6,0V16.2"/></g><g transform="translate(36.200,0)"><ellipse cx="5.85" cy="4.35" rx="4.5" ry="3.55"/><ellipse cx="5.85" cy="11.75" rx="5.05" ry="3.65"/></g></g>
<g transform="translate(159.60,532.00) scale(1.0021,1.0000)" fill="none" stroke="#111" stroke-width="1.75" class="dg"><g transform="translate(0.000,0)"><path d="M0.75,3.1C1.7,1.5 3.4,0.8 5.4,0.8C8.3,0.8 10.3,2.5 10.3,4.9C10.3,6.3 9.7,7.5 8.3,8.9L1.2,15.4H11.3" stroke-linejoin="miter" stroke-miterlimit="2"/></g><g transform="translate(13.400,0)"><ellipse cx="6.4" cy="8.1" rx="5.6" ry="7.3"/></g><g transform="translate(27.300,0)"><path d="M0,0.8H4.6M4.6,0V16.2"/></g><g transform="translate(36.100,0)"><ellipse cx="5.45" cy="4.9" rx="4.65" ry="4.1"/><path d="M10.1,3.5C11.0,5.5 11.5,7.5 11.5,9.8C11.5,13.4 9.2,15.4 6.0,15.4C4.2,15.4 2.6,14.8 1.3,13.8"/></g></g>
<g transform="translate(245.10,532.00) scale(0.9945,1.0000)" fill="none" stroke="#111" stroke-width="1.75" class="dg"><g transform="translate(0.000,0)"><path d="M0.75,3.1C1.7,1.5 3.4,0.8 5.4,0.8C8.3,0.8 10.3,2.5 10.3,4.9C10.3,6.3 9.7,7.5 8.3,8.9L1.2,15.4H11.3" stroke-linejoin="miter" stroke-miterlimit="2"/></g><g transform="translate(13.400,0)"><ellipse cx="6.4" cy="8.1" rx="5.6" ry="7.3"/></g><g transform="translate(28.200,0)"><path d="M0.75,3.1C1.7,1.5 3.4,0.8 5.4,0.8C8.3,0.8 10.3,2.5 10.3,4.9C10.3,6.3 9.7,7.5 8.3,8.9L1.2,15.4H11.3" stroke-linejoin="miter" stroke-miterlimit="2"/></g><g transform="translate(41.600,0)"><ellipse cx="6.4" cy="8.1" rx="5.6" ry="7.3"/></g></g>
<g transform="translate(330.00,532.00) scale(1.0196,1.0000)" fill="none" stroke="#111" stroke-width="1.75" class="dg"><g transform="translate(0.000,0)"><path d="M0.75,3.1C1.7,1.5 3.4,0.8 5.4,0.8C8.3,0.8 10.3,2.5 10.3,4.9C10.3,6.3 9.7,7.5 8.3,8.9L1.2,15.4H11.3" stroke-linejoin="miter" stroke-miterlimit="2"/></g><g transform="translate(13.400,0)"><ellipse cx="6.4" cy="8.1" rx="5.6" ry="7.3"/></g><g transform="translate(28.200,0)"><path d="M0.75,3.1C1.7,1.5 3.4,0.8 5.4,0.8C8.3,0.8 10.3,2.5 10.3,4.9C10.3,6.3 9.7,7.5 8.3,8.9L1.2,15.4H11.3" stroke-linejoin="miter" stroke-miterlimit="2"/></g><g transform="translate(40.600,0)"><path d="M0,0.8H4.6M4.6,0V16.2"/></g></g>
<g transform="translate(416.10,532.00) scale(0.9811,1.0000)" fill="none" stroke="#111" stroke-width="1.75" class="dg"><g transform="translate(0.000,0)"><path d="M0.75,3.1C1.7,1.5 3.4,0.8 5.4,0.8C8.3,0.8 10.3,2.5 10.3,4.9C10.3,6.3 9.7,7.5 8.3,8.9L1.2,15.4H11.3" stroke-linejoin="miter" stroke-miterlimit="2"/></g><g transform="translate(13.400,0)"><ellipse cx="6.4" cy="8.1" rx="5.6" ry="7.3"/></g><g transform="translate(28.200,0)"><path d="M0.75,3.1C1.7,1.5 3.4,0.8 5.4,0.8C8.3,0.8 10.3,2.5 10.3,4.9C10.3,6.3 9.7,7.5 8.3,8.9L1.2,15.4H11.3" stroke-linejoin="miter" stroke-miterlimit="2"/></g><g transform="translate(41.500,0)"><path d="M0.75,3.1C1.7,1.5 3.4,0.8 5.4,0.8C8.3,0.8 10.3,2.5 10.3,4.9C10.3,6.3 9.7,7.5 8.3,8.9L1.2,15.4H11.3" stroke-linejoin="miter" stroke-miterlimit="2"/></g></g>
<g transform="translate(500.70,532.00) scale(0.9885,1.0000)" fill="none" stroke="#111" stroke-width="1.75" class="dg"><g transform="translate(0.000,0)"><path d="M0.75,3.1C1.7,1.5 3.4,0.8 5.4,0.8C8.3,0.8 10.3,2.5 10.3,4.9C10.3,6.3 9.7,7.5 8.3,8.9L1.2,15.4H11.3" stroke-linejoin="miter" stroke-miterlimit="2"/></g><g transform="translate(13.400,0)"><ellipse cx="6.4" cy="8.1" rx="5.6" ry="7.3"/></g><g transform="translate(28.200,0)"><path d="M0.75,3.1C1.7,1.5 3.4,0.8 5.4,0.8C8.3,0.8 10.3,2.5 10.3,4.9C10.3,6.3 9.7,7.5 8.3,8.9L1.2,15.4H11.3" stroke-linejoin="miter" stroke-miterlimit="2"/></g><g transform="translate(41.400,0)"><path d="M1.0,0.8H9.9L4.6,7.0C8.1,7.0 9.9,8.8 9.9,11.2C9.9,13.7 8.0,15.4 5.3,15.4C3.4,15.4 1.8,14.7 0.7,13.5"/></g></g>
<g transform="translate(586.40,532.00) scale(0.9891,1.0000)" fill="none" stroke="#111" stroke-width="1.75" class="dg"><g transform="translate(0.000,0)"><path d="M0.75,3.1C1.7,1.5 3.4,0.8 5.4,0.8C8.3,0.8 10.3,2.5 10.3,4.9C10.3,6.3 9.7,7.5 8.3,8.9L1.2,15.4H11.3" stroke-linejoin="miter" stroke-miterlimit="2"/></g><g transform="translate(13.400,0)"><ellipse cx="6.4" cy="8.1" rx="5.6" ry="7.3"/></g><g transform="translate(28.200,0)"><path d="M0.75,3.1C1.7,1.5 3.4,0.8 5.4,0.8C8.3,0.8 10.3,2.5 10.3,4.9C10.3,6.3 9.7,7.5 8.3,8.9L1.2,15.4H11.3" stroke-linejoin="miter" stroke-miterlimit="2"/></g><g transform="translate(41.400,0)"><path d="M9.6,0.3L1.0,10.9H13.5M9.7,6.6V16.2"/></g></g>
</svg>
</body></html>
